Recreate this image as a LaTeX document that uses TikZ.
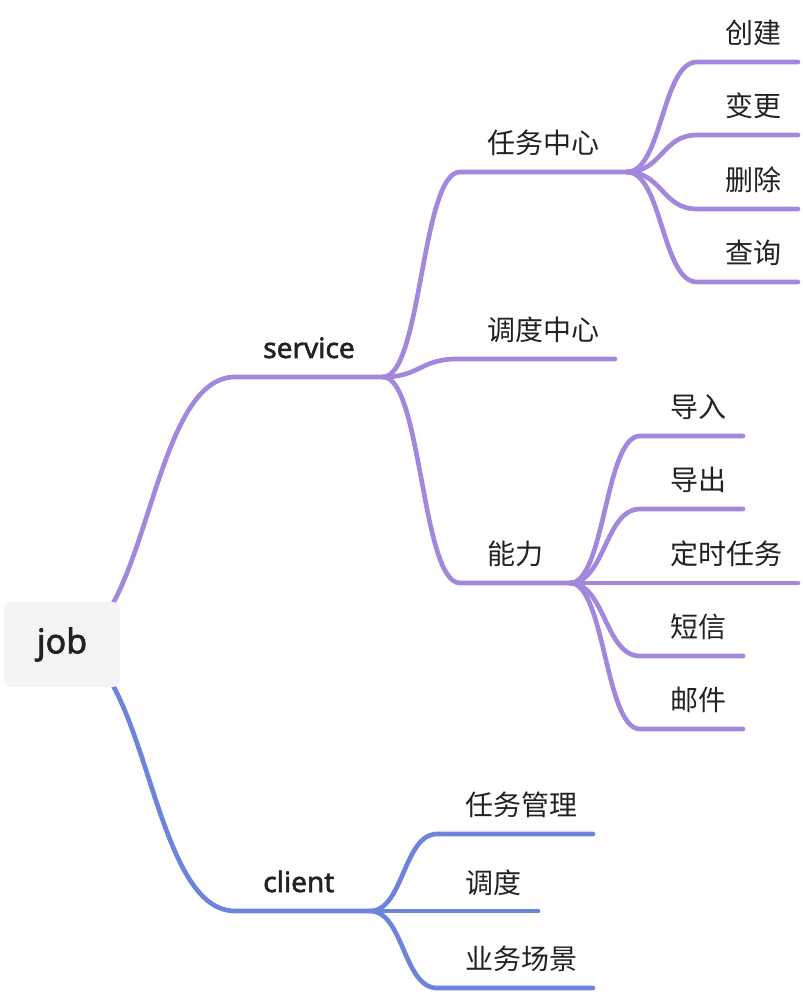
\documentclass[tikz,border=0pt]{standalone}
\usepackage{fontspec}
\setmainfont{Noto Sans}
\newfontfamily\cjk{Noto Sans CJK SC}
\newfontfamily\latf[FakeBold=2]{Noto Sans}
\usetikzlibrary{backgrounds}
\definecolor{purp}{HTML}{A287DD}
\definecolor{blu}{HTML}{6C84DB}
\definecolor{txt}{HTML}{222222}
\definecolor{boxfill}{HTML}{F4F4F4}
\begin{document}
\begin{tikzpicture}[x=0.75pt,y=-0.75pt,
  edge/.style={line width=3.5pt,line cap=round,line join=round},
  pline/.style={edge,draw=purp},
  bline/.style={edge,draw=blu},
  lab/.style={anchor=base west,inner sep=0,text=txt,font=\cjk\fontsize{21}{21}\selectfont},
  latlab/.style={anchor=base west,inner sep=0,text=txt,font=\latf\fontsize{21}{21}\selectfont},
  rootbox/.style={fill=boxfill,rounded corners=6pt,minimum width=87pt,minimum height=64pt,inner sep=0,text=txt,font=\latf\fontsize{25.5}{25.5}\selectfont}
]
\useasboundingbox (0,0) rectangle (802,994);

% root
\node[rootbox] (job) at (62,644.5) {job};

% coordinates
\coordinate (svcA) at (235,377); \coordinate (svcF) at (383,377);
\coordinate (cliA) at (235,911); \coordinate (cliF) at (370,911);
\coordinate (t1A) at (460,172); \coordinate (t1F) at (627,172);
\coordinate (t2A) at (457,359); \coordinate (t2E) at (615,359);
\coordinate (t3A) at (460,583); \coordinate (t3F) at (570,583);
\coordinate (c1A) at (697,62);  \coordinate (c1E) at (798,62);
\coordinate (c2A) at (697,135); \coordinate (c2E) at (798,135);
\coordinate (c3A) at (697,209); \coordinate (c3E) at (798,209);
\coordinate (c4A) at (697,282); \coordinate (c4E) at (798,282);
\coordinate (n1A) at (640,436); \coordinate (n1E) at (743,436);
\coordinate (n2A) at (640,509); \coordinate (n2E) at (743,509);
\coordinate (n3E) at (798,583);
\coordinate (n4A) at (640,656); \coordinate (n4E) at (743,656);
\coordinate (n5A) at (640,729); \coordinate (n5E) at (743,729);
\coordinate (k1A) at (437,834); \coordinate (k1E) at (593,834);
\coordinate (k2E) at (538,911);
\coordinate (k3A) at (437,988); \coordinate (k3E) at (593,988);

\begin{pgfonlayer}{background}
% service
\draw[pline] (job.center) .. controls +(86.5,0) and +(-86.5,0) .. (svcA) -- (svcF);
\draw[pline] (svcF) .. controls +(38.5,0) and +(-38.5,0) .. (t1A) -- (t1F);
\draw[pline] (svcF) .. controls +(37,0) and +(-37,0) .. (t2A) -- (t2E);
\draw[pline] (svcF) .. controls +(38.5,0) and +(-38.5,0) .. (t3A) -- (t3F);
% task center children
\draw[pline] (t1F) .. controls +(35,0) and +(-35,0) .. (c1A) -- (c1E);
\draw[pline] (t1F) .. controls +(35,0) and +(-35,0) .. (c2A) -- (c2E);
\draw[pline] (t1F) .. controls +(35,0) and +(-35,0) .. (c3A) -- (c3E);
\draw[pline] (t1F) .. controls +(35,0) and +(-35,0) .. (c4A) -- (c4E);
% ability children
\draw[pline] (t3F) .. controls +(35,0) and +(-35,0) .. (n1A) -- (n1E);
\draw[pline] (t3F) .. controls +(35,0) and +(-35,0) .. (n2A) -- (n2E);
\draw[pline] (t3F) -- (n3E);
\draw[pline] (t3F) .. controls +(35,0) and +(-35,0) .. (n4A) -- (n4E);
\draw[pline] (t3F) .. controls +(35,0) and +(-35,0) .. (n5A) -- (n5E);
% client
\draw[bline] (job.center) .. controls +(86.5,0) and +(-86.5,0) .. (cliA) -- (cliF);
\draw[bline] (cliF) .. controls +(33.5,0) and +(-33.5,0) .. (k1A) -- (k1E);
\draw[bline] (cliF) -- (k2E);
\draw[bline] (cliF) .. controls +(33.5,0) and +(-33.5,0) .. (k3A) -- (k3E);
\end{pgfonlayer}

% labels
\node[latlab] (service) at (263,358) {service};
\node[latlab] (client) at (263,892) {client};
\node[lab] (rwzx) at (487,153.5) {任务中心};
\node[lab] (ddzx) at (487,340.5) {调度中心};
\node[lab] (nl) at (487,564.5) {能力};
\node[lab] (cj) at (725,43.5) {创建};
\node[lab] (bg) at (725,116.5) {变更};
\node[lab] (sc) at (725,190.5) {删除};
\node[lab] (cx) at (725,263.5) {查询};
\node[lab] (dr) at (670,417.5) {导入};
\node[lab] (dc) at (670,490.5) {导出};
\node[lab] (dsrw) at (670,564.5) {定时任务};
\node[lab] (dx) at (670,637.5) {短信};
\node[lab] (yj) at (670,710.5) {邮件};
\node[lab] (rwgl) at (465,815.5) {任务管理};
\node[lab] (dd) at (465,893.5) {调度};
\node[lab] (ywcj) at (465,969.5) {业务场景};
\end{tikzpicture}
\end{document}
